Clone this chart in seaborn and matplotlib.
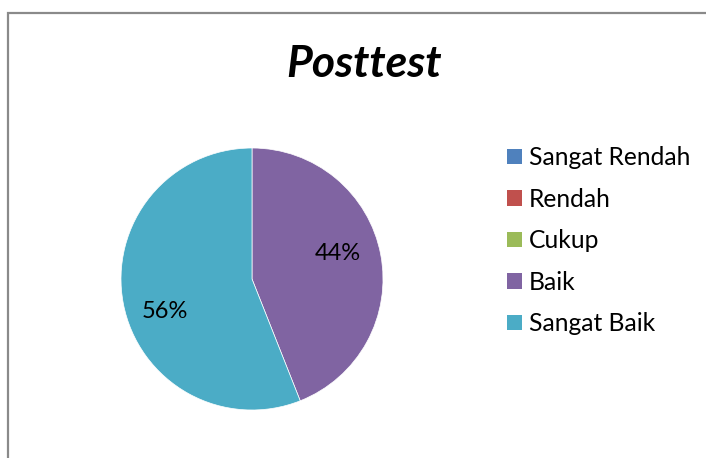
import matplotlib
matplotlib.use("Agg")
import matplotlib.pyplot as plt
import seaborn as sns
from matplotlib.patches import Rectangle, Patch

sns.set_theme(style="white")
plt.rcParams['font.family'] = ['Lato', 'DejaVu Sans']
plt.rcParams['text.color'] = 'black'

categories = ["Sangat Rendah", "Rendah", "Cukup", "Baik", "Sangat Baik"]
values = [0, 0, 0, 44, 56]
colors = ["#4F81BD", "#C0504D", "#9BBB59", "#8064A2", "#4BACC6"]
title = "Posttest"

fig = plt.figure(figsize=(7.06, 4.58), dpi=100)
W, H = 706, 458

# outer border
fig.patches.append(Rectangle((7.5 / W, -0.05), 1.2, (H - 12.5) / H + 0.05,
                             transform=fig.transFigure, fill=False,
                             edgecolor="#8a8a8a", linewidth=1.6))

cx, cy, r = 252, 279, 131
ax = fig.add_axes([(cx - r) / W, 1 - (cy + r) / H, 2 * r / W, 2 * r / H])

wedges, texts, autotexts = ax.pie(
    values, colors=colors, startangle=90, counterclock=False,
    autopct=lambda p: f"{p:.0f}%" if p > 0 else "",
    pctdistance=0.7, radius=1.0,
    wedgeprops=dict(linewidth=0.5, edgecolor="white"),
    textprops=dict(fontsize=17, color="black"))
ax.set_xlim(-1, 1)
ax.set_ylim(-1, 1)
ax.set_aspect("equal")

# reposition labels to match reference placement
label_pos = {3: (0.656, 0.198), 4: (-0.664, -0.245)}
for i, t in enumerate(autotexts):
    if i in label_pos:
        t.set_position(label_pos[i])

fig.text(364 / W, 1 - 64 / H, title, ha="center", va="center",
         fontsize=32, fontweight="bold", fontstyle="italic", color="black")

handles = [Patch(facecolor=c, edgecolor="none") for c in colors]
leg = fig.legend(handles, categories, loc="upper left",
                 bbox_to_anchor=(495 / W, 1 - 134 / H), frameon=False,
                 fontsize=17.7, handlelength=0.58, handleheight=0.58,
                 handletextpad=0.3, labelspacing=0.75, borderpad=0)
for t in leg.get_texts():
    t.set_color("black")

fig.savefig("out.png", dpi=100)
